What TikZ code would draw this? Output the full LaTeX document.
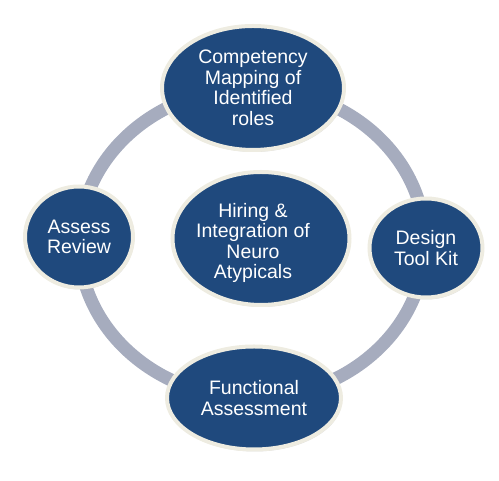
\documentclass[tikz,border=0pt]{standalone}
\usepackage{fontspec}
\setmainfont{Liberation Sans}
\usetikzlibrary{shapes.geometric,shadows}
\definecolor{nodeblue}{HTML}{1F497D}
\definecolor{nodeedge}{HTML}{EEECE1}
\definecolor{ringgray}{HTML}{A6ACBE}
\begin{document}
\begin{tikzpicture}[x=1pt,y=1pt,
  blobtext/.style={text=white, align=center, inner sep=0pt,
    font=\fontsize{19.5}{20.5}\selectfont},
  blob/.style={ellipse, draw=nodeedge, line width=4pt, fill=nodeblue, blobtext,
    drop shadow={opacity=0.25, shadow xshift=1pt, shadow yshift=-2pt}},
  ring/.style={draw=ringgray, line width=13pt}]
\useasboundingbox (0,0) rectangle (499,481);
\draw[ring] (252,238) ellipse [x radius=173, y radius=155];
\node[blob, minimum width=182, minimum height=124] (top) at (253,393) {Competency\\Mapping of\\Identified\\roles};
\node[blob, minimum width=108, minimum height=101] (left) at (79,244) {Assess\\Review};
\node[blob, minimum width=113, minimum height=99] (right) at (426,233) {Design\\Tool Kit};
\node[blob, minimum width=174, minimum height=103] (bottom) at (254,83) {Functional\\Assessment};
\node[blob, minimum width=177, minimum height=133] (center) at (261,242.5) {};
\node[blobtext] (centertext) at (253,238) {Hiring \&\\Integration of\\Neuro\\Atypicals};
\end{tikzpicture}
\end{document}
